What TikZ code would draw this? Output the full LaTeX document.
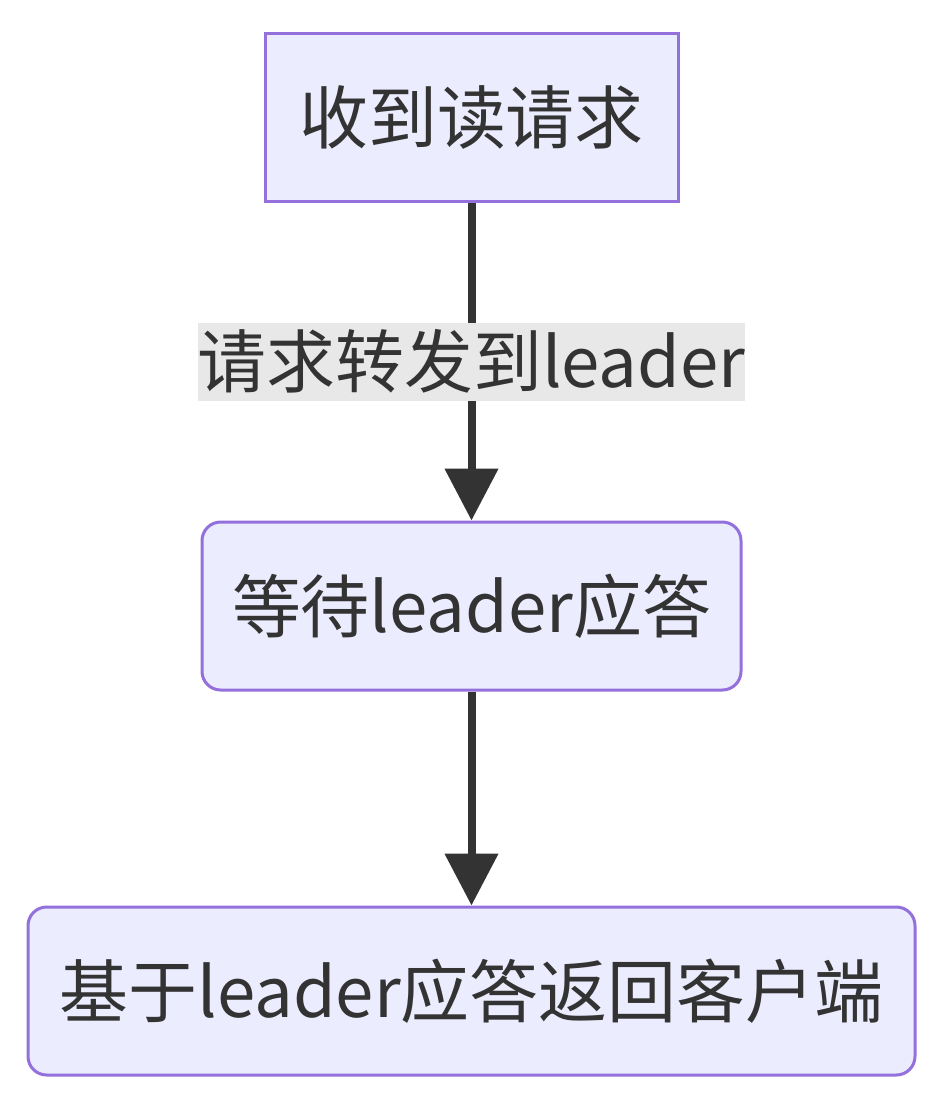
\documentclass[tikz,border=0pt]{standalone}
\usepackage{fontspec}
\setmainfont{Noto Sans CJK SC}
\usetikzlibrary{arrows.meta}
\definecolor{boxfill}{HTML}{ECECFF}
\definecolor{boxline}{HTML}{9370DB}
\definecolor{ink}{HTML}{333333}
\definecolor{lblfill}{HTML}{E8E8E8}
\tikzset{
  centered/.style = { align=center, anchor=center },
     state/.style = { centered, draw=boxline, fill=boxfill, line width=2.25pt,
                      text=ink, font=\fontsize{51.7}{60}\selectfont,
                      minimum height=126pt, inner sep=0pt },
     round/.style = { state, rounded corners=14pt },
      edge/.style = { line width=6pt, color=ink, -{Triangle[width=39pt,length=39pt]} },
       lbl/.style = { fill=lblfill, text=ink, font=\fontsize{51.7}{60}\selectfont,
                      minimum width=407pt, minimum height=58.5pt, inner sep=0pt },
}
\begin{document}
\begin{tikzpicture}[x=0.75pt,y=-0.75pt]
  \useasboundingbox (0,0) rectangle (948,1101);
  \node[state, minimum width=309.75pt] (read) at (471.5,117.5) {收到读请求};
  \node[round, minimum width=404.25pt] (wait) at (471.5,606) {等待leader应答};
  \node[round, minimum width=665.25pt] (reply) at (471.5,991) {基于leader应答返回客户端};

  \draw [edge] (read) -- node[lbl] (fwd) {请求转发到leader} (wait);
  \draw [edge] (wait) -- (reply);
\end{tikzpicture}
\end{document}
